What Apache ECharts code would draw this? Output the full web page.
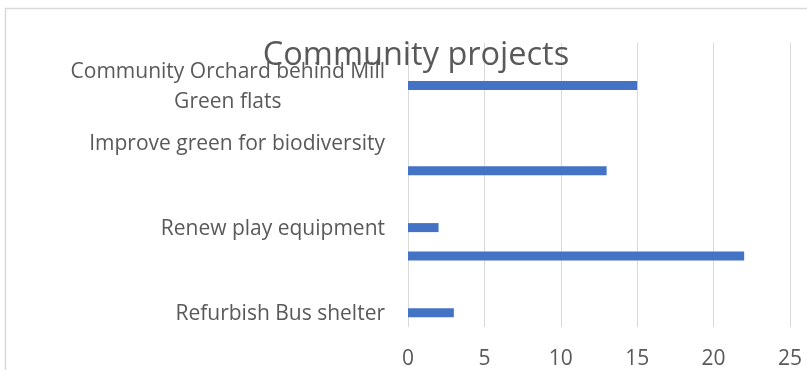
<!DOCTYPE html>
<html>
<head>
<meta charset="utf-8">
<script src="https://cdn.jsdelivr.net/npm/echarts@6/dist/echarts.min.js"></script>
<style>
  html, body { margin: 0; padding: 0; background: #ffffff; }
  #chart { width: 807px; height: 370px; }
</style>
</head>
<body>
<div id="chart"></div>
<script>
// Rows listed top to bottom; blank rows keep the spacing of the source sheet.
const categories = [
  '',
  'Community Orchard behind Mill\nGreen flats',
  '',
  'Improve green for biodiversity',
  '',
  '',
  'Renew play equipment',
  '',
  '',
  'Refurbish Bus shelter'
];
const votes = [null, 15, null, 0, 13, null, 2, 22, null, 3];
const xTicks = { min: 0, max: 25, step: 5 };
const chartTitle = 'Community projects';

const FONT = '"Open Sans", "DejaVu Sans", sans-serif';
const TEXT = '#595959';
const GRID = '#d9d9d9';

const chart = echarts.init(document.getElementById('chart'), null, { renderer: 'canvas' });
chart.setOption({
  animation: false,
  backgroundColor: '#ffffff',
  title: {
    text: chartTitle,
    left: 411,
    top: 34,
    textAlign: 'center',
    textStyle: { fontFamily: FONT, fontSize: 32.5, fontWeight: 'normal', color: TEXT }
  },
  graphic: [{
    type: 'rect',
    shape: { x: 5.5, y: 8.5, width: 820, height: 380 },
    style: { fill: 'none', stroke: GRID, lineWidth: 1.5 },
    silent: true
  }],
  grid: { left: 408, right: 17, top: 43, bottom: 43, containLabel: false },
  xAxis: {
    type: 'value',
    min: xTicks.min,
    max: xTicks.max,
    interval: xTicks.step,
    axisLine: { show: false },
    axisTick: { show: false },
    splitLine: { show: true, lineStyle: { color: GRID, width: 1 } },
    axisLabel: { color: TEXT, fontFamily: FONT, fontSize: 21, margin: 22 }
  },
  yAxis: {
    type: 'category',
    inverse: true,
    data: categories,
    axisLine: { show: false },
    axisTick: { show: false },
    splitLine: { show: false },
    axisLabel: {
      interval: 0,
      margin: 23,
      align: 'right',
      padding: [3, 0, 0, 0],
      // each wrapped line is centred within the label block
      formatter: v => v.split('\n').map(s => '{c|' + s + '}').join('\n'),
      rich: {
        c: { align: 'center', color: TEXT, fontFamily: FONT, fontSize: 21, lineHeight: 30 }
      }
    }
  },
  series: [{
    type: 'bar',
    data: votes,
    barWidth: 9,
    itemStyle: { color: '#4472C4' }
  }]
});
</script>
</body>
</html>
